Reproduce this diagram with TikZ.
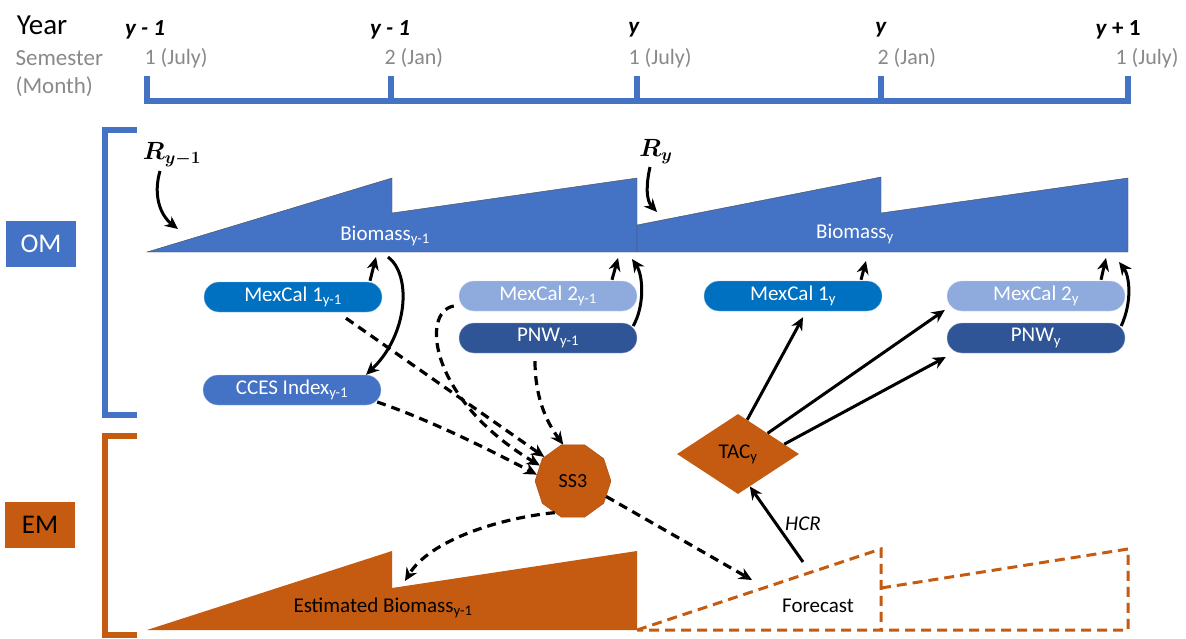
\documentclass[tikz,border=0pt]{standalone}
\usepackage{fontspec}
\usepackage{bm}
\setmainfont{Carlito}
\usetikzlibrary{arrows.meta, shapes.geometric, shapes.misc, positioning, calc}

\definecolor{omblue}{HTML}{4472C4}
\definecolor{emorange}{HTML}{C55A11}
\definecolor{mexone}{HTML}{0070C0}
\definecolor{mextwo}{HTML}{8FAADC}
\definecolor{pnwblue}{HTML}{2F5597}
\definecolor{semgray}{HTML}{898989}

\tikzset{
  survey/.style={rounded rectangle, minimum width=178pt, minimum height=30pt, inner sep=0pt,
    fill=#1, draw=white!55!#1, text=white},
  flow/.style={->, line width=3pt},
  est/.style={->, line width=3.2pt, dash pattern=on 9pt off 6pt},
  band/.style={line width=5.5pt, line join=miter},
}

\begin{document}
\begin{tikzpicture}[x=1pt, y=-1pt, >={Stealth[length=13pt,width=12pt]},
    every node/.style={font=\fontsize{21}{24}\selectfont}]
  \useasboundingbox (0,0) rectangle (1186,639);

  % time axis
  \node (year) at (42,25) {\fontsize{29}{32}\selectfont Year};
  \node[anchor=west, text=semgray, font=\fontsize{23}{26}\selectfont] (sem) at (12,58) {Semester};
  \node[anchor=west, text=semgray, font=\fontsize{23}{26}\selectfont] (month) at (12,87) {(Month)};
  \node[font=\fontsize{23}{26}\selectfont] (y1) at (145,30) {\textbf{\textit{y - 1}}};
  \node[font=\fontsize{23}{26}\selectfont] (y2) at (390,30) {\textbf{\textit{y - 1}}};
  \node[font=\fontsize{23}{26}\selectfont] (y3) at (634,30) {\textbf{\textit{y}}};
  \node[font=\fontsize{23}{26}\selectfont] (y4) at (881,30) {\textbf{\textit{y}}};
  \node[font=\fontsize{23}{26}\selectfont] (y5) at (1118,30) {\textbf{\textit{y} + 1}};
  \foreach \x/\lab in {141/1 (July), 381/2 (Jan), 625/1 (July), 874/2 (Jan), 1112/1 (July)}
    \node[anchor=west, text=semgray, font=\fontsize{22}{26}\selectfont] (sem\x) at (\x,58) {\lab};
  \draw[band, omblue] (147,76) -- (147,101) -- (1128,101) -- (1128,76);
  \foreach \x in {391,637,881}
    \draw[band, omblue] (\x,76) -- (\x,101);

  % OM / EM brackets
  \draw[band, omblue] (137,130) -- (105,130) -- (105,415) -- (137,415);
  \draw[band, emorange] (137,436) -- (105,436) -- (105,635) -- (137,635);
  \node[fill=omblue, text=white, minimum width=70pt, minimum height=46pt,
    font=\fontsize{27}{28}\selectfont] (om) at (41,244) {OM};
  \node[fill=emorange, text=black, minimum width=70pt, minimum height=46pt,
    font=\fontsize{27}{28}\selectfont] (em) at (40,525) {EM};

  % operating model biomass
  \draw[fill=omblue, draw=black!70, thin] (147,252) -- (392,178) -- (392,213) -- (637,178) -- (637,252) -- cycle;
  \draw[fill=omblue, draw=black!70, thin] (637,252) -- (637,225) -- (881,177) -- (881,213) -- (1128,178) -- (1128,252) -- cycle;
  \node[text=white] (bprev) at (385,236) {Biomass\textsubscript{y-1}};
  \node[text=white] (bcur) at (855,234) {Biomass\textsubscript{y}};

  \node[font=\fontsize{24}{26}\selectfont] (rprev) at (172,155) {$\bm{R_{y-1}}$};
  \node[font=\fontsize{24}{26}\selectfont] (rcur) at (656,152) {$\bm{R_y}$};
  \coordinate (rin1) at (178,229);
  \coordinate (rin2) at (657,212);
  \draw[flow] (160,171) .. controls (153,195) and (160,215) .. (rin1);
  \draw[flow] (650,167) .. controls (646,185) and (646,200) .. (rin2);

  \coordinate (b1) at (376,257);
  \coordinate (b2) at (388,257);
  \coordinate (b3) at (618,258);
  \coordinate (b4) at (632,259);
  \coordinate (b5) at (866,261);
  \coordinate (b6) at (1106,258);
  \coordinate (b7) at (1119,262);

  % data sources
  \node[survey=mexone] (mc1p) at (293,297) {MexCal 1\textsubscript{y-1}};
  \node[survey=mextwo] (mc2p) at (548,296) {MexCal 2\textsubscript{y-1}};
  \node[survey=pnwblue] (pnwp) at (548,338) {PNW\textsubscript{y-1}};
  \node[survey=omblue] (ccesp) at (292,390) {CCES Index\textsubscript{y-1}};
  \node[survey=mexone] (mc1) at (793,296) {MexCal 1\textsubscript{y}};
  \node[survey=mextwo] (mc2) at (1036,296) {MexCal 2\textsubscript{y}};
  \node[survey=pnwblue] (pnw) at (1036,338) {PNW\textsubscript{y}};

  \draw[flow] ($(mc1p.north)+(77,-1)$) -- (b1);
  \draw[flow] (b2) .. controls (412,275) and (408,335) .. (ccesp.north east);
  \draw[flow] ($(mc2p.north)+(64,-1)$) -- (b3);
  \draw[flow] ($(pnwp.east)+(-4,-12)$) .. controls (645,305) and (643,275) .. (b4);
  \draw[flow] ($(mc1.north)+(68,-1)$) -- (b5);
  \draw[flow] ($(mc2.north)+(65,-1)$) -- (b6);
  \draw[flow] ($(pnw.east)+(-4,-12)$) .. controls (1133,300) and (1129,275) .. (b7);

  % estimation model
  \fill[emorange] (147,630) -- (392,551) -- (392,588) -- (637,551) -- (637,630) -- cycle;
  \draw[emorange, line width=3pt, dash pattern=on 10pt off 6pt] (637,630) -- (881,549) -- (881,630) -- cycle;
  \draw[emorange, line width=3pt, dash pattern=on 10pt off 6pt] (881,588) -- (1128,549) -- (1128,630) -- (881,630);
  \node (eb) at (383,608) {Estimated Biomass\textsubscript{y-1}};
  \node (fc) at (818,606) {Forecast};
  \coordinate (ebin) at (405,581);
  \coordinate (fcin) at (752,580);
  \coordinate (fcout) at (803,562);

  \node[regular polygon, regular polygon sides=10, minimum size=76pt, inner sep=0pt,
    fill=emorange, draw=emorange!85!black, font=\fontsize{20}{22}\selectfont] (ss3) at (573,481) {SS3};
  \node[diamond, minimum width=122pt, minimum height=80pt, inner sep=0pt,
    fill=emorange] (tac) at (738,454) {TAC\textsubscript{y}};

  \draw[est] ($(mc1p.south)+(53,6)$) -- (ss3.140);
  \draw[est] ($(ccesp.east)+(-4,12)$) .. controls (430,420) and (490,450) .. (ss3.170);
  \draw[est] ($(mc2p.west)+(-5,10)$) .. controls (420,312) and (430,400) .. (ss3.155);
  \draw[est] ($(pnwp.south)+(-13,8)$) .. controls (535,395) and (545,420) .. (ss3.105);
  \draw[est] (ss3.240) .. controls (500,518) and (430,540) .. (ebin);
  \draw[est] (ss3.-25) -- (fcin);

  \draw[flow] (fcout) -- node[right=4pt, font=\fontsize{21}{24}\itshape] (hcr) {HCR} (tac.-70);
  \draw[flow] (tac.75) -- ($(mc1.south)+(10,6)$);
  \draw[flow] (tac.35) -- ($(mc2.west)+(-2,14)$);
  \draw[flow] (tac.12) -- ($(pnw.west)+(-1,19)$);
\end{tikzpicture}
\end{document}
